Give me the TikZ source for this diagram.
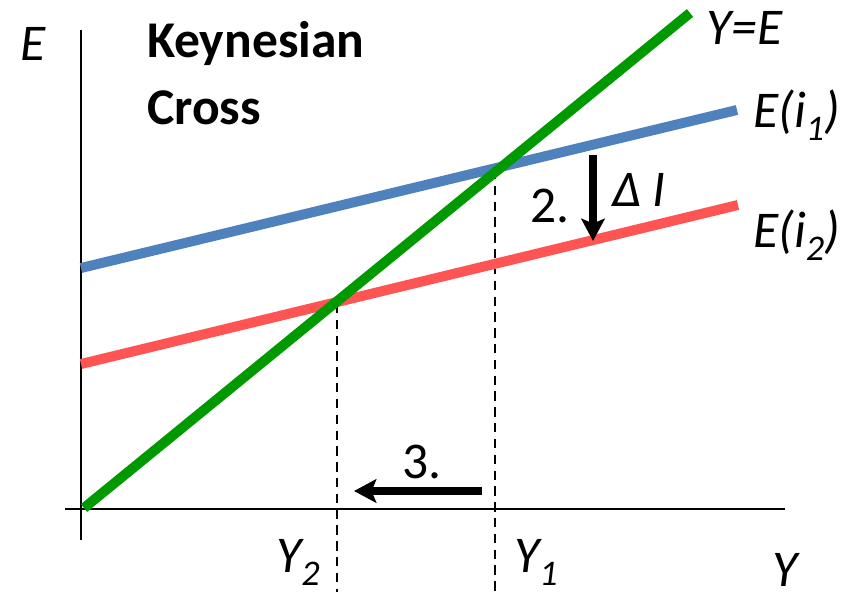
\documentclass[tikz,border=0pt]{standalone}
\usepackage{fontspec}
\setmainfont{Carlito}
\usepackage{xcolor}
\usetikzlibrary{positioning,arrows.meta,calc}
\definecolor{kcgreen}{RGB}{0,153,0}
\definecolor{kcblue}{RGB}{79,129,189}
\definecolor{kcred}{RGB}{255,84,84}
\tikzset{
  axis/.style={line width=2.4pt, black},
  curve/.style={line width=8.5pt},
  guide/.style={line width=2.4pt, dash pattern=on 8pt off 5.5pt},
  shiftarrow/.style={-{Stealth[length=19pt,width=20pt,inset=4pt]}, line width=6pt},
  lbl/.style={anchor=base west, inner sep=0pt, font=\fontsize{44}{48}\selectfont\itshape},
  num/.style={anchor=base west, inner sep=0pt, font=\fontsize{44}{48}\selectfont},
  title/.style={anchor=base west, inner sep=0pt, font=\fontsize{44}{48}\selectfont\bfseries}
}

\begin{document}
\begin{tikzpicture}[x=0.03cm, y=-0.03cm]
    \useasboundingbox (0,0) rectangle (852,592);
    % axes
    \coordinate (ytop) at (81,30);
    \coordinate (ybot) at (81,540);
    \coordinate (xleft) at (65,509);
    \coordinate (xright) at (785,509);
    \draw[axis] (ytop) -- (ybot);
    \draw[axis] (xleft) -- (xright);
    % curves
    \coordinate (g0) at (84,508);
    \coordinate (g1) at (690,13);
    \coordinate (b0) at (81,268);
    \coordinate (b1) at (737,110);
    \coordinate (r0) at (81,364);
    \coordinate (r1) at (738,205);
    \coordinate (eq1) at (495,170);
    \coordinate (eq2) at (337,304);
    \coordinate (y1foot) at (495,592);
    \coordinate (y2foot) at (337,592);
    \draw[guide] (eq1) -- (y1foot);
    \draw[guide] (eq2) -- (y2foot);
    \draw[curve, kcblue] (b0) -- (b1);
    \draw[curve, kcred] (r0) -- (r1);
    \draw[curve, kcgreen] (g0) -- (g1);
    % shifts
    \coordinate (dItop) at (593,155);
    \coordinate (dIbot) at (593,241);
    \coordinate (dYstart) at (482,491);
    \coordinate (dYend) at (354,491);
    \draw[shiftarrow] (dItop) -- (dIbot);
    \draw[shiftarrow] (dYstart) -- (dYend);
    % labels
    \node[lbl] (ename) at (20,61) {E};
    \node[title] (kc1) at (147,58) {Keynesian};
    \node[title] (kc2) at (147,124) {Cross};
    \node[lbl] (yeq) at (706,45) {Y=E};
    \node[lbl] (ei1) at (753,127) {E(i\textsubscript{1})};
    \node[lbl] (ei2) at (753,247) {E(i\textsubscript{2})};
    \node[num] (step2) at (530,222) {2.};
    \node[lbl] (dI) at (612,206) {Δ I};
    \node[num] (step3) at (402,478) {3.};
    \node[lbl] (y2) at (276,572) {Y\textsubscript{2}};
    \node[lbl] (y1) at (514,572) {Y\textsubscript{1}};
    \node[lbl] (yname) at (772,586) {Y};
  \end{tikzpicture}
\end{document}
